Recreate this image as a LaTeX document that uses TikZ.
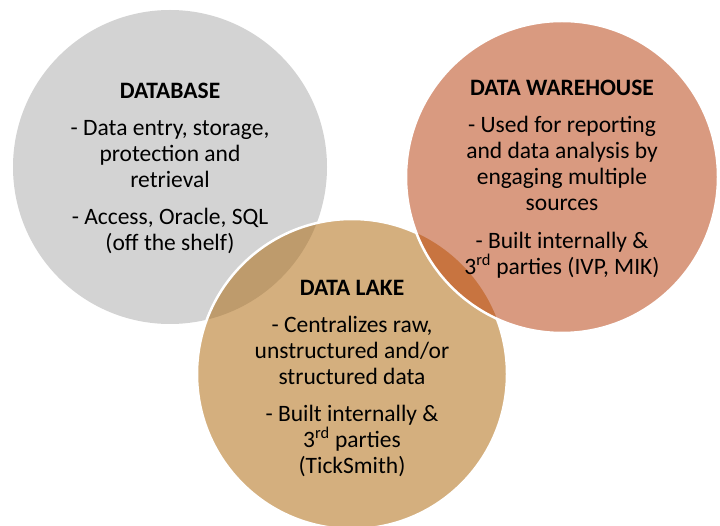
\documentclass[tikz,border=0pt]{standalone}
\usepackage{fontspec}
\setmainfont{Carlito}
\usetikzlibrary{positioning}
\definecolor{dbgray}{RGB}{211,211,211}
\definecolor{laketan}{RGB}{212,175,126}
\definecolor{lakedark}{RGB}{190,155,108}
\definecolor{whsalmon}{RGB}{217,154,128}
\definecolor{whdark}{RGB}{200,116,64}

\begin{document}
\begin{tikzpicture}[x=1pt,y=1pt,
  blurb/.style={anchor=north, inner sep=0pt, align=center, text=black,
    font=\fontsize{23.5}{26}\selectfont},
  rim/.style={draw=white, line width=2.5pt}]
\useasboundingbox (0,0) rectangle (720,525);
% Centres
\coordinate (db) at (170,358);
\coordinate (lake) at (352,151);
\coordinate (wh) at (562,348);
% Circles
\fill[dbgray] (db) circle (157pt);
\fill[laketan] (lake) circle (155pt);
\begin{scope}
\clip (lake) circle (155pt);
\fill[lakedark] (db) circle (157pt);
\end{scope}
\draw[rim] (lake) circle (155pt);
\fill[whsalmon] (wh) circle (156pt);
\begin{scope}
\clip (wh) circle (156pt);
\fill[whdark] (lake) circle (155pt);
\end{scope}
\draw[rim] (wh) circle (156pt);
% Text
\node[blurb] (dbtext) at (170,442.3) {\textbf{DATABASE}\\[11pt]
  - Data entry, storage,\\ protection and\\ retrieval\\[11.5pt]
  - Access, Oracle, SQL\\ (off the shelf)};
\node[blurb] (whtext) at (562,445) {\textbf{DATA WAREHOUSE}\\[11pt]
  - Used for reporting\\ and data analysis by\\ engaging multiple\\ sources\\[12pt]
  - Built internally \&\\ 3\textsuperscript{rd} parties (IVP, MIK)};
\node[blurb] (laketext) at (352,245) {\textbf{DATA LAKE}\\[11.5pt]
  - Centralizes raw,\\ unstructured and/or\\ structured data\\[11pt]
  - Built internally \&\\ 3\textsuperscript{rd} parties\\ (TickSmith)};
\end{tikzpicture}
\end{document}
